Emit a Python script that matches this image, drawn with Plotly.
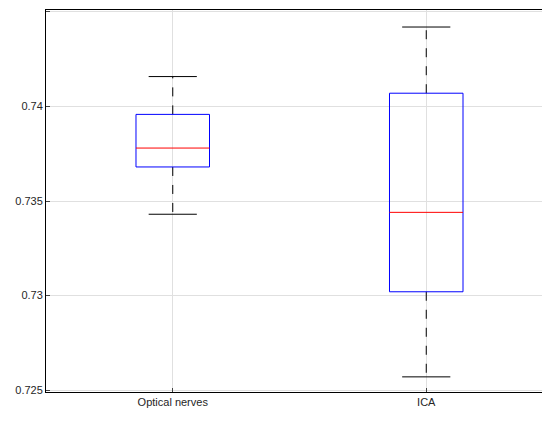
import plotly.graph_objects as go

categories = ["Optical nerves", "ICA"]
lower = [0.7343, 0.7257]
q1 = [0.7368, 0.7302]
median = [0.7378, 0.7344]
q3 = [0.73958, 0.7407]
upper = [0.74158, 0.7442]

fig = go.Figure()
hw = 0.145
cw = 0.095
for i, c in enumerate(categories):
    x = i + 1
    fig.add_trace(go.Scatter(x=[x, x, None, x, x], y=[q3[i], upper[i], None, q1[i], lower[i]],
                             mode="lines", line=dict(color="black", dash="dash", width=1), showlegend=False, hoverinfo="skip"))
    fig.add_trace(go.Scatter(x=[x - cw, x + cw, None, x - cw, x + cw], y=[upper[i], upper[i], None, lower[i], lower[i]],
                             mode="lines", line=dict(color="black", width=1), showlegend=False, hoverinfo="skip"))
    fig.add_trace(go.Scatter(x=[x - hw, x + hw, x + hw, x - hw, x - hw], y=[q1[i], q1[i], q3[i], q3[i], q1[i]],
                             mode="lines", line=dict(color="blue", width=1), showlegend=False, hoverinfo="skip"))
    fig.add_trace(go.Scatter(x=[x - hw, x + hw], y=[median[i], median[i]],
                             mode="lines", line=dict(color="red", width=1), showlegend=False, hoverinfo="skip"))

fig.update_layout(
    width=550, height=425, margin=dict(l=38, r=5, t=2, b=41),
    plot_bgcolor="white", paper_bgcolor="white",
    font=dict(family="Liberation Sans, Arial", size=11, color="#262626"),
    xaxis=dict(range=[0.5, 2.5], tickvals=[1, 2], ticktext=categories, showgrid=True, gridcolor="#e0e0e0",
               showline=True, linecolor="black", mirror=True, zeroline=False, ticks="inside", ticklen=4),
    yaxis=dict(range=[0.7249, 0.7451], tickvals=[0.725, 0.73, 0.735, 0.74, 0.745],
               ticktext=["0.725", "0.73", "0.735", "0.74", "0.745"], showgrid=True, gridcolor="#e0e0e0",
               showline=True, linecolor="black", mirror=True, zeroline=False, ticks="inside", ticklen=4),
)
fig.write_html("out.html")
